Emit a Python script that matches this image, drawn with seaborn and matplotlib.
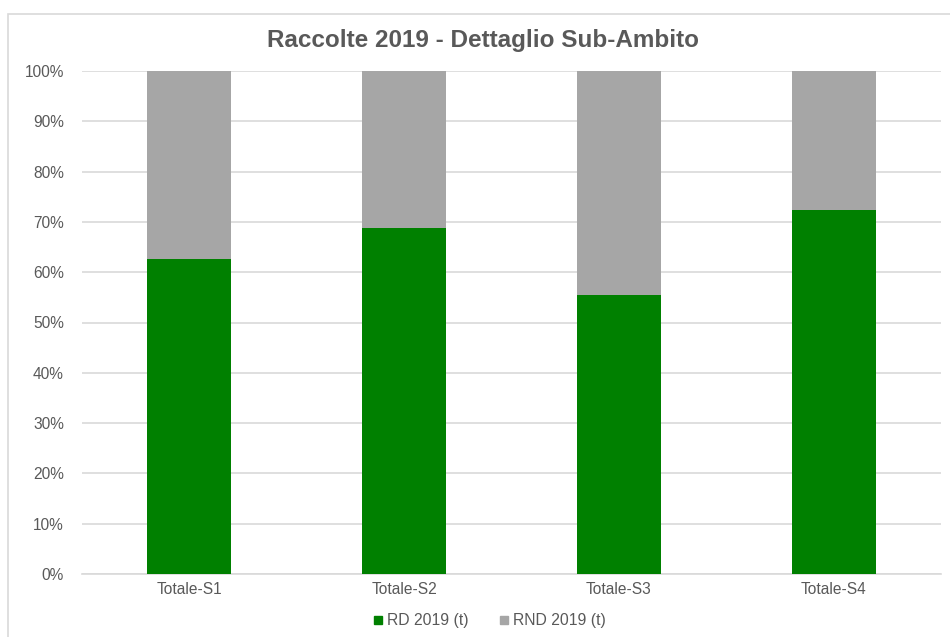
import matplotlib
matplotlib.use("Agg")
import matplotlib.pyplot as plt
from matplotlib.patches import Rectangle
from matplotlib.lines import Line2D
from matplotlib.ticker import PercentFormatter
import seaborn as sns
import pandas as pd

# dati
categories = ["Totale-S1", "Totale-S2", "Totale-S3", "Totale-S4"]
rd_2019 = [62.6, 68.7, 55.4, 72.4]       # % RD 2019 (t)
rnd_2019 = [37.4, 31.3, 44.6, 27.6]      # % RND 2019 (t)
series_names = ["RD 2019 (t)", "RND 2019 (t)"]

C_RD = "#008000"
C_RND = "#a6a6a6"
C_TEXT = "#595959"
C_GRID = "#d9d9d9"

sns.set_theme(style="white")
plt.rcParams["font.family"] = ["Liberation Sans", "DejaVu Sans"]

df = pd.DataFrame({"cat": categories, "rd": rd_2019, "rnd": rnd_2019})
df["tot"] = df["rd"] + df["rnd"]

fig = plt.figure(figsize=(9.5, 6.37), dpi=100)
ax = fig.add_axes([82 / 950, 1 - 574 / 637, (941 - 82) / 950, (574 - 71) / 637])

# barre impilate: totale (grigio) sotto, RD (verde) sopra
sns.barplot(data=df, x="cat", y="tot", color=C_RND, width=0.39, saturation=1,
            linewidth=0, ax=ax, zorder=2)
sns.barplot(data=df, x="cat", y="rd", color=C_RD, width=0.39, saturation=1,
            linewidth=0, ax=ax, zorder=3)

ax.set_xlim(-0.5, 3.5)
ax.set_ylim(0, 100)
ax.set_yticks(range(0, 101, 10))
ax.yaxis.set_major_formatter(PercentFormatter(decimals=0))
ax.grid(True, axis="y", color=C_GRID, linewidth=1.2, zorder=0)
ax.set_axisbelow(True)
ax.set_xlabel("")
ax.set_ylabel("")
for s in ["top", "right", "left"]:
    ax.spines[s].set_visible(False)
ax.spines["bottom"].set_color(C_GRID)
ax.spines["bottom"].set_linewidth(1.2)
ax.tick_params(axis="both", length=0, labelsize=11.2, colors=C_TEXT)
ax.tick_params(axis="y", pad=13)
ax.tick_params(axis="x", pad=6)

fig.text(483 / 950, 1 - 41 / 637, "Raccolte 2019 - Dettaglio Sub-Ambito",
         ha="center", va="center", fontsize=17.5, fontweight="bold", color=C_TEXT)

handles = [
    Line2D([0], [0], marker="s", linestyle="", markersize=6, color=C_RD, label=series_names[0]),
    Line2D([0], [0], marker="s", linestyle="", markersize=6, color=C_RND, label=series_names[1]),
]
fig.legend(handles=handles, loc="center", bbox_to_anchor=(488 / 950, 1 - 621 / 637), ncol=2,
           frameon=False, fontsize=11.3, labelcolor=C_TEXT, handletextpad=0.05,
           columnspacing=1.8, handlelength=1.0)

# cornice del grafico
fig.patches.append(Rectangle((8 / 950, -0.05), 1.1, 1 - 14 / 637 + 0.05, transform=fig.transFigure,
                             fill=False, edgecolor=C_GRID, linewidth=1.2))

fig.savefig("out.png", dpi=100, facecolor="white")
